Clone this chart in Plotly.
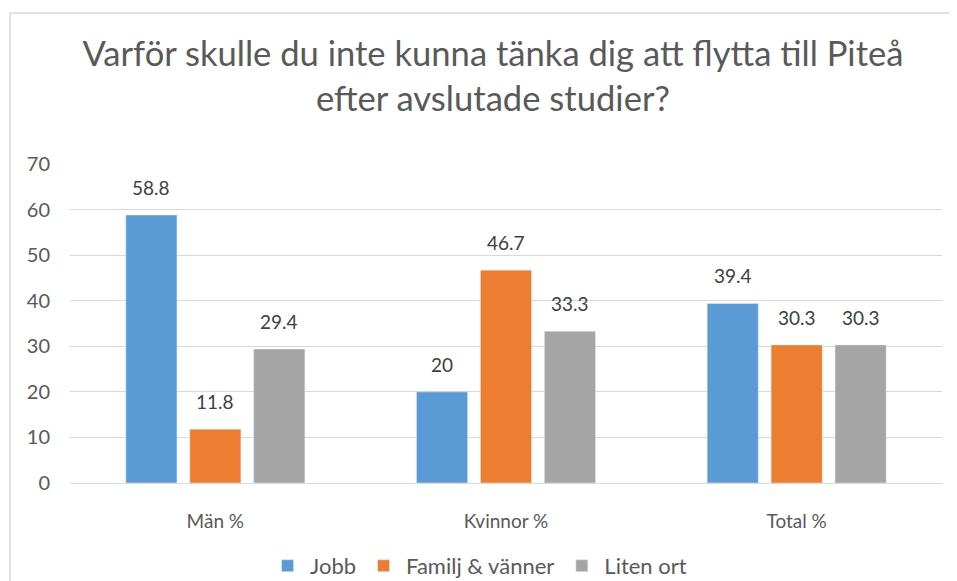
import plotly.graph_objects as go

categories = ["Män %", "Kvinnor %", "Total %"]
series_names = ["Jobb", "Familj & vänner", "Liten ort"]
jobb = [58.8, 20, 39.4]
familj = [11.8, 46.7, 30.3]
liten_ort = [29.4, 33.3, 30.3]
colors = ["#5B9BD5", "#ED7D31", "#A5A5A5"]
y_ticks = [0, 10, 20, 30, 40, 50, 60, 70]

FONT = "Lato, Open Sans, sans-serif"
series_vals = [jobb, familj, liten_ort]

fig = go.Figure()
for name, vals, col in zip(series_names, series_vals, colors):
    fig.add_trace(go.Bar(x=categories, y=vals, name=name, marker_color=col))

# data labels above bars (offset to each bar's slot within the group)
slot_px = 64
for j, vals in enumerate(series_vals):
    for cat, v in zip(categories, vals):
        fig.add_annotation(x=cat, y=v, xref="x", yref="y", text=str(v), showarrow=False,
                           xshift=(j - 1) * slot_px, yshift=14, yanchor="bottom",
                           font=dict(size=19, color="#404040", family=FONT))

# page body has an 8px margin, so the figure is sized 8px smaller
fig.update_layout(
    width=949, height=573,
    margin=dict(l=62, r=15, t=156, b=98, autoexpand=False),
    paper_bgcolor="white", plot_bgcolor="white",
    barmode="group", bargap=0.34, bargroupgap=0.2,
    title=dict(
        text="Varför skulle du inte kunna tänka dig att flytta till Piteå<br>efter avslutade studier?",
        x=0.511, xanchor="center", y=0.899, yanchor="top",
        font=dict(size=34.6, color="#595959", family=FONT),
    ),
    font=dict(family=FONT, color="#595959", size=19),
    xaxis=dict(showgrid=False, showline=False, ticks="", automargin=False,
               tickfont=dict(size=19, color="#595959"), ticklabelstandoff=25),
    yaxis=dict(range=[0, 70], tickvals=y_ticks, showgrid=True, gridcolor="#D9D9D9", gridwidth=1.3,
               zeroline=True, zerolinecolor="#D9D9D9", zerolinewidth=1.3, automargin=False,
               tickfont=dict(size=20, color="#595959"), ticklabelstandoff=19),
    legend=dict(orientation="h", x=0.4685, xanchor="center", y=-0.194, yanchor="top",
                font=dict(size=22, color="#595959"), itemwidth=35, tracegroupgap=0),
    showlegend=True,
)
# chart-area border (top and left edges visible; the rest lies beyond the crop)
fig.add_shape(type="line", xref="paper", yref="paper", x0=-0.0688, x1=1.2, y0=1.473, y1=1.473,
              line=dict(color="#D9D9D9", width=1.5), layer="below")
fig.add_shape(type="line", xref="paper", yref="paper", x0=-0.0688, x1=-0.0688, y0=-0.5, y1=1.473,
              line=dict(color="#D9D9D9", width=1.5), layer="below")

fig.write_html("out.html")
